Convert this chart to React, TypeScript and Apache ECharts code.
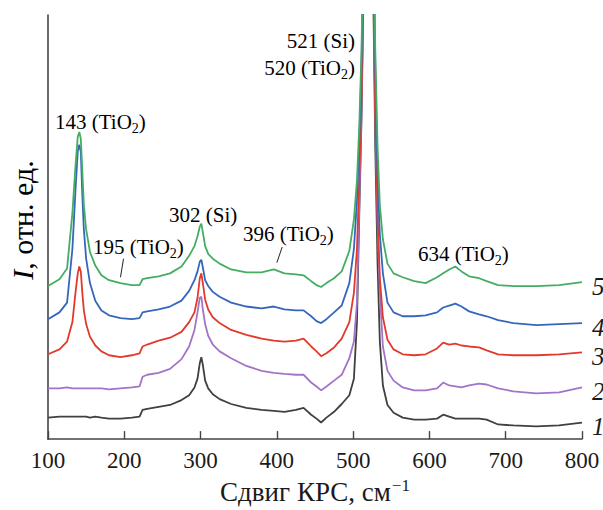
import React, { useEffect, useRef } from "react";
import * as echarts from "echarts";

// Raman shift, cm^-1 (shared x positions for all spectra)
const shift = [100,115,125,132,136,139,141,143,145,147,150,155,162,170,180,195,210,220,224,230,245,260,275,285,292,296,299,301,303,306,310,316,325,340,360,380,396,410,425,435,445,452,458,465,475,485,495,501,505,508,511,514,517,520,523,526,529,532,535,539,545,553,565,580,595,610,618,626,634,642,652,665,675,690,710,740,770,800];

// Intensity (arbitrary units, offset spectra)
const curve1 = [22,23,23,23,23,23,23,23,23,23,23,22,23,22,21,21,22,23,30,31,33,35,40,45,53,62,78,84,76,60,52,46,41,36,32,30,29,28,30,32,25,21,17,22,28,36,45,62,120,230,330,480,750,1300,800,480,300,180,100,55,35,27,22,20,20,21,25,23,21,21,21,21,20,15,14,13,14,17];
const curve2 = [52,52,53,52,52,52,52,52,52,52,52,52,52,52,51,52,53,54,64,66,68,72,82,95,112,130,145,146,133,118,106,97,90,83,75,70,68,67,66,66,58,54,50,54,60,66,83,100,140,240,340,490,770,1300,820,500,330,220,150,95,70,60,53,50,50,52,58,55,54,53,55,57,56,52,49,47,48,53];
const curve3 = [87,92,100,120,150,170,177,172,150,132,118,105,96,90,86,84,86,88,95,97,101,104,110,120,130,145,165,170,160,143,133,125,119,112,107,103,101,100,101,103,95,90,85,88,94,103,120,150,195,265,355,495,770,1300,820,520,340,230,165,125,102,92,87,86,87,93,99,97,98,96,95,94,91,87,86,86,87,89];
const curve4 = [123,130,140,195,255,295,302,295,250,215,185,160,142,132,127,124,123,124,130,131,133,136,142,152,163,172,182,184,176,163,157,151,146,140,136,134,136,133,132,132,126,121,119,123,130,137,160,195,245,305,385,525,800,1300,850,560,380,270,210,170,140,130,126,126,127,130,135,137,139,136,131,128,126,122,119,117,118,119];
const curve5 = [157,164,175,232,280,310,315,308,275,240,215,192,178,168,163,160,158,158,164,165,167,170,177,188,198,208,218,221,212,198,190,185,180,174,171,171,174,170,169,168,162,158,156,160,165,172,193,225,265,320,400,540,820,1300,870,590,400,300,240,205,180,170,166,162,160,166,170,174,177,172,167,165,162,158,157,157,158,161];

const seriesNames = ["1", "2", "3", "4", "5"];
const seriesColors = ["#404040", "#a274c8", "#e3392d", "#3467bb", "#45ad62"];
const seriesValues = [curve1, curve2, curve3, curve4, curve5];

const xTicks = { min: 100, max: 800, interval: 100 };

// Peak annotations
const peakLabels = [
  { text: "{a|143 (TiO}{s|2}{a|)}", x: 55, y: 123, align: "left" },
  { text: "{a|195 (TiO}{s|2}{a|)}", x: 93, y: 248, align: "left" },
  { text: "{a|302 (Si)}", x: 169, y: 216, align: "left" },
  { text: "{a|396 (TiO}{s|2}{a|)}", x: 243, y: 235, align: "left" },
  { text: "{a|634 (TiO}{s|2}{a|)}", x: 418, y: 255, align: "left" },
  { text: "{a|521 (Si)}", x: 355, y: 42, align: "right" },
  { text: "{a|520 (TiO}{s|2}{a|)}", x: 355, y: 69, align: "right" },
];
// Leader lines (data coords) for 195 and 396 bands
const leader195 = [[199, 185], [195, 166]];
const leader396 = [[407, 197], [400, 181]];

const FONT = "Liberation Serif";

export default function App() {
  const ref = useRef<HTMLDivElement>(null);
  useEffect(() => {
    if (!ref.current) return;
    const chart = echarts.init(ref.current, null, { renderer: "svg" });
    const richSub = {
      a: { fontSize: 21, fontFamily: FONT, color: "#1a1a1a", verticalAlign: "bottom", padding: [0, 0, 3, 0] },
      s: { fontSize: 14, fontFamily: FONT, color: "#1a1a1a", verticalAlign: "bottom" },
    };
    const series = seriesValues.map((vals, i) => {
      const s: any = {
        type: "line",
        name: seriesNames[i],
        data: vals.map((v, j) => [shift[j], v]),
        showSymbol: false,
        symbol: "none",
        clip: true,
        z: 2 + i,
        lineStyle: { color: seriesColors[i], width: 1.8 },
        itemStyle: { color: seriesColors[i] },
        endLabel: {
          show: true,
          formatter: seriesNames[i],
          fontFamily: FONT,
          fontStyle: "italic",
          fontSize: 25,
          color: "#1a1a1a",
          offset: [2, 4],
        },
        emphasis: { disabled: true },
      };
      if (i === 4) {
        s.markLine = {
          silent: true,
          symbol: ["none", "none"],
          label: { show: false },
          lineStyle: { color: "#222", width: 1, type: "solid" },
          emphasis: { disabled: true },
          data: [
            [{ coord: leader195[0] }, { coord: leader195[1] }],
            [{ coord: leader396[0] }, { coord: leader396[1] }],
          ],
        };
      }
      return s;
    });
    chart.setOption({
      animation: false,
      backgroundColor: "#ffffff",
      textStyle: { fontFamily: FONT },
      grid: { left: 48, right: 21, top: 15, bottom: 60 },
      xAxis: {
        type: "value",
        min: xTicks.min,
        max: xTicks.max,
        interval: xTicks.interval,
        splitLine: { show: false },
        axisLine: { show: true, lineStyle: { color: "#444", width: 1.6 } },
        axisTick: { show: true, inside: true, length: 8, lineStyle: { color: "#444", width: 1.4 } },
        axisLabel: { fontFamily: FONT, fontSize: 23, color: "#1a1a1a", margin: 10 },
        name: "{a|Сдвиг КРС, см}{p|−1}",
        nameLocation: "middle",
        nameGap: 33,
        nameTextStyle: {
          rich: {
            a: { fontFamily: FONT, fontSize: 27, color: "#1a1a1a", verticalAlign: "bottom" },
            p: { fontFamily: FONT, fontSize: 17, color: "#1a1a1a", verticalAlign: "bottom", padding: [0, 0, 11, 1] },
          },
        },
      },
      yAxis: {
        type: "value",
        min: 0,
        max: 435,
        splitLine: { show: false },
        axisLine: { show: true, lineStyle: { color: "#444", width: 1.6 } },
        axisTick: { show: false },
        axisLabel: { show: false },
      },
      series,
      graphic: [
        ...peakLabels.map((p) => ({
          type: "text",
          x: p.x,
          y: p.y,
          z: 100,
          style: {
            text: p.text,
            align: p.align,
            verticalAlign: "middle",
            rich: richSub,
          },
        })),
        {
          type: "text",
          x: 22,
          y: 220,
          rotation: Math.PI / 2,
          z: 100,
          style: {
            text: "{i|I}{a|, отн. ед.}",
            align: "center",
            verticalAlign: "middle",
            rich: {
              i: { fontFamily: FONT, fontSize: 30, fontStyle: "italic", color: "#1a1a1a" },
              a: { fontFamily: FONT, fontSize: 30, color: "#1a1a1a" },
            },
          },
        },
      ],
    });
    return () => chart.dispose();
  }, []);
  return (
    <div
      ref={ref}
      style={{ position: "fixed", left: 0, top: 0, width: 603, height: 510, background: "#fff" }}
    />
  );
}
